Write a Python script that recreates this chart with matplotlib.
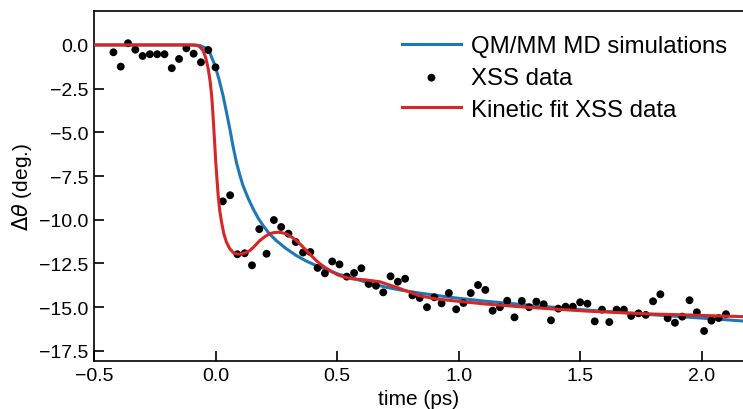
import matplotlib
matplotlib.use('Agg')  # no display
import matplotlib.pyplot as plt

plt.rcParams['font.family'] = ['Liberation Sans', 'DejaVu Sans']
plt.rcParams['mathtext.fontset'] = 'dejavusans'

# XSS data points (time in ps, angle change in degrees)
xss_time = [-0.42, -0.39, -0.36, -0.33, -0.30, -0.27, -0.24, -0.21, -0.18, -0.15,
            -0.12, -0.09, -0.06, -0.03, 0.00, 0.03, 0.06, 0.09, 0.12, 0.15,
            0.18, 0.21, 0.24, 0.27, 0.30, 0.33, 0.36, 0.39, 0.42, 0.45,
            0.48, 0.51, 0.54, 0.57, 0.60, 0.63, 0.66, 0.69, 0.72, 0.75,
            0.78, 0.81, 0.84, 0.87, 0.90, 0.93, 0.96, 0.99, 1.02, 1.05,
            1.08, 1.11, 1.14, 1.17, 1.20, 1.23, 1.26, 1.29, 1.32, 1.35,
            1.38, 1.41, 1.44, 1.47, 1.50, 1.53, 1.56, 1.59, 1.62, 1.65,
            1.68, 1.71, 1.74, 1.77, 1.80, 1.83, 1.86, 1.89, 1.92, 1.95,
            1.98, 2.01, 2.04, 2.07, 2.10]
xss_angle = [-0.42, -1.24, 0.10, -0.27, -0.63, -0.53, -0.53, -0.53, -1.33, -0.80,
             -0.19, -0.50, -0.99, -0.29, -1.28, -8.95, -8.60, -11.98, -11.92, -12.61,
             -10.54, -11.95, -10.02, -10.42, -10.80, -11.28, -11.88, -11.85, -12.76, -13.07,
             -12.39, -12.56, -13.26, -13.05, -12.78, -13.68, -13.78, -14.16, -13.24, -13.55,
             -13.38, -14.33, -14.48, -15.01, -14.44, -14.79, -14.20, -15.13, -14.77, -14.20,
             -13.74, -14.02, -15.21, -15.01, -14.64, -15.59, -14.65, -15.01, -14.69, -14.84,
             -15.76, -15.09, -14.98, -14.98, -14.73, -14.81, -15.82, -15.15, -15.86, -15.15,
             -15.15, -15.51, -15.36, -15.45, -14.67, -14.27, -15.64, -15.90, -15.55, -14.61,
             -15.30, -16.37, -15.78, -15.63, -15.41]

# QM/MM MD simulation curve
sim_time = [-0.50, -0.10, -0.065, -0.03, -0.002, 0.015, 0.031, 0.045, 0.059, 0.072,
            0.086, 0.10, 0.113, 0.135, 0.155, 0.175, 0.196, 0.22, 0.25, 0.29,
            0.333, 0.375, 0.415, 0.46, 0.504, 0.565, 0.63, 0.703, 0.77, 0.839,
            0.976, 1.113, 1.25, 1.387, 1.524, 1.661, 1.798, 1.935, 2.072, 2.17]
sim_angle = [0.00, 0.00, -0.03, -0.23, -1.18, -2.00, -2.90, -3.85, -4.81, -5.80,
             -6.72, -7.45, -8.05, -8.80, -9.39, -9.90, -10.34, -10.78, -11.20, -11.65,
             -12.06, -12.38, -12.63, -12.88, -13.11, -13.35, -13.62, -13.87, -14.05, -14.20,
             -14.46, -14.67, -14.84, -15.01, -15.17, -15.30, -15.44, -15.57, -15.70, -15.80]

# Kinetic fit of XSS data
fit_time = [-0.50, -0.09, -0.078, -0.065, -0.051, -0.04, -0.03, -0.022, -0.016, -0.011,
            -0.007, -0.003, 0.001, 0.006, 0.011, 0.017, 0.025, 0.034, 0.045, 0.058,
            0.072, 0.09, 0.107, 0.125, 0.141, 0.16, 0.182, 0.203, 0.223, 0.24,
            0.257, 0.275, 0.292, 0.312, 0.333, 0.354, 0.374, 0.395, 0.415, 0.435,
            0.456, 0.48, 0.504, 0.53, 0.565, 0.62, 0.675, 0.744, 0.80, 0.839,
            0.90, 0.976, 1.113, 1.25, 1.387, 1.524, 1.661, 1.798, 1.935, 2.05, 2.17]
fit_angle = [0.00, 0.00, -0.02, -0.10, -0.33, -0.75, -1.37, -2.10, -2.90, -3.85,
             -4.81, -5.75, -6.72, -7.70, -8.63, -9.45, -10.15, -10.80, -11.29, -11.65,
             -11.87, -11.97, -11.96, -11.88, -11.77, -11.52, -11.20, -10.97, -10.80, -10.74,
             -10.72, -10.75, -10.82, -10.98, -11.20, -11.48, -11.77, -12.07, -12.35, -12.58,
             -12.78, -12.98, -13.17, -13.28, -13.39, -13.45, -13.55, -13.87, -14.15, -14.35,
             -14.52, -14.64, -14.83, -14.98, -15.11, -15.23, -15.32, -15.40, -15.45, -15.50, -15.55]

fig = plt.figure(figsize=(7.43, 4.10), dpi=100)
ax = fig.add_axes([0.1265, 0.117, 0.8735, 0.854])

ax.plot(sim_time, sim_angle, color='#1f77b4', lw=2.2, label='QM/MM MD simulations', zorder=2)
ax.scatter(xss_time, xss_angle, s=32, color='black', edgecolors='none', label='XSS data', zorder=3)
ax.plot(fit_time, fit_angle, color='#d62728', lw=2.2, label='Kinetic fit XSS data', zorder=4)

ax.set_xlim(-0.5, 2.17)
ax.set_ylim(-18.09, 1.95)
ax.set_xticks([-0.5, 0.0, 0.5, 1.0, 1.5, 2.0])
ax.set_yticks([0.0, -2.5, -5.0, -7.5, -10.0, -12.5, -15.0, -17.5])
ax.tick_params(direction='in', length=7, width=1.2, labelsize=14, pad=4)
ax.spines['right'].set_visible(False)
for s in ['left', 'top', 'bottom']:
    ax.spines[s].set_linewidth(1.2)

ax.set_xlabel('time (ps)', fontsize=15, labelpad=4)
ax.set_ylabel(r'$\Delta\theta$ (deg.)', fontsize=15, labelpad=4)

ax.legend(loc='upper left', bbox_to_anchor=(0.4746, 0.93), frameon=False, fontsize=17.3,
          handlelength=2.45, handletextpad=0.42, labelspacing=0.4,
          borderaxespad=0, borderpad=0)

plt.savefig('out.png', dpi=100)
plt.close()
